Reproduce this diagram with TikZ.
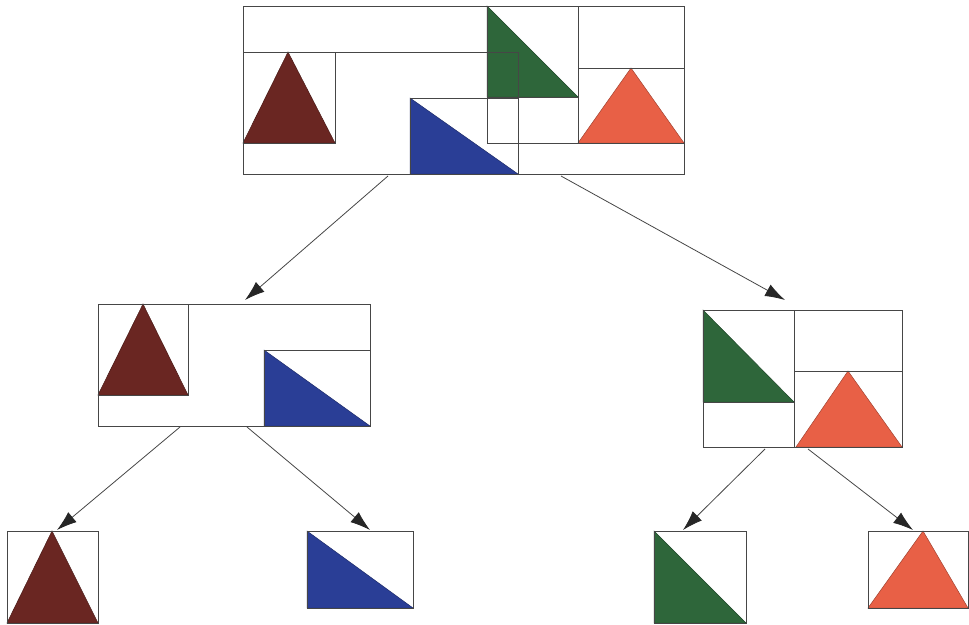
\documentclass[tikz,border=0pt]{standalone}
\usetikzlibrary{arrows.meta}
\definecolor{linegray}{RGB}{70,70,70}
\definecolor{cbrown}{RGB}{106,38,34}
\definecolor{cblue}{RGB}{42,62,150}
\definecolor{cgreen}{RGB}{46,102,58}
\definecolor{cred}{RGB}{232,96,70}
\tikzset{
  frame/.style={draw=linegray, line width=1pt},
  tri/.style={draw=#1!70!black, line width=0.5pt, fill=#1},
  link/.style={draw=linegray, line width=0.8pt, -{Latex[length=20pt,width=13pt,fill=black!85,color=black!85]}}
}
\begin{document}
\begin{tikzpicture}[x=1pt,y=-1pt]
\useasboundingbox (0,0) rectangle (969,624);
% ---------- top node ----------
\draw[tri=cgreen] (487,6) -- (487,97) -- (578,97) -- cycle;
\draw[tri=cbrown] (288,52) -- (243,143) -- (335,143) -- cycle;
\draw[tri=cblue] (410,98) -- (410,174) -- (518,174) -- cycle;
\draw[tri=cred] (631,68) -- (578,143) -- (684,143) -- cycle;
\node[frame, inner sep=0, minimum width=441pt, minimum height=168pt, anchor=north west] (top) at (243,6) {};
\draw[frame] (243,52) rectangle (518,174);
\draw[frame] (243,52) rectangle (335,143);
\draw[frame] (410,98) rectangle (518,174);
\draw[frame] (487,6) rectangle (684,143);
\draw[frame] (578,6) -- (578,143);
\draw[frame] (578,68) -- (684,68);
\draw[frame] (487,97) -- (578,97);
% ---------- middle left ----------
\draw[tri=cbrown] (143,304) -- (98,395) -- (188,395) -- cycle;
\draw[tri=cblue] (264,350) -- (264,426) -- (370,426) -- cycle;
\node[frame, inner sep=0, minimum width=272pt, minimum height=122pt, anchor=north west] (ml) at (98,304) {};
\draw[frame] (98,304) rectangle (188,395);
\draw[frame] (264,350) rectangle (370,426);
% ---------- middle right ----------
\draw[tri=cgreen] (703,310) -- (703,402) -- (794,402) -- cycle;
\draw[tri=cred] (848,371) -- (796,447) -- (902,447) -- cycle;
\node[frame, inner sep=0, minimum width=199pt, minimum height=137pt, anchor=north west] (mr) at (703,310) {};
\draw[frame] (794,310) -- (794,447);
\draw[frame] (703,402) -- (794,402);
\draw[frame] (794,371) -- (902,371);
% ---------- bottom row ----------
\draw[tri=cbrown] (52,531) -- (7,623) -- (98,623) -- cycle;
\node[frame, inner sep=0, minimum width=91pt, minimum height=92pt, anchor=north west] (b1) at (7,531) {};
\draw[tri=cblue] (307,531) -- (307,608) -- (413,608) -- cycle;
\node[frame, inner sep=0, minimum width=106pt, minimum height=77pt, anchor=north west] (b2) at (307,531) {};
\draw[tri=cgreen] (654,531) -- (654,623) -- (746,623) -- cycle;
\node[frame, inner sep=0, minimum width=92pt, minimum height=92pt, anchor=north west] (b3) at (654,531) {};
\draw[tri=cred] (923,531) -- (868,608) -- (968,608) -- cycle;
\node[frame, inner sep=0, minimum width=100pt, minimum height=77pt, anchor=north west] (b4) at (868,531) {};
% ---------- connector end points ----------
\coordinate (s1) at (388,176);
\coordinate (e1) at (245,300);
\coordinate (s2) at (561,176);
\coordinate (e2) at (785,300);
\coordinate (s3) at (180,427);
\coordinate (e3) at (57,530);
\coordinate (s4) at (247,427);
\coordinate (e4) at (370,530);
\coordinate (s5) at (765,449);
\coordinate (e5) at (683,530);
\coordinate (s6) at (808,449);
\coordinate (e6) at (913,530);
\draw[link] (s1) -- (e1);
\draw[link] (s2) -- (e2);
\draw[link] (s3) -- (e3);
\draw[link] (s4) -- (e4);
\draw[link] (s5) -- (e5);
\draw[link] (s6) -- (e6);
\end{tikzpicture}
\end{document}
